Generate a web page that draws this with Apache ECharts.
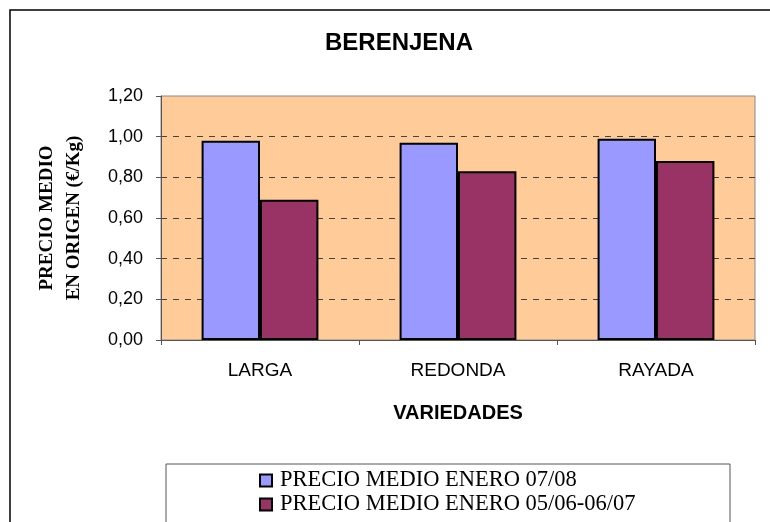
<!DOCTYPE html>
<html>
<head>
<meta charset="utf-8">
<script src="https://cdn.jsdelivr.net/npm/echarts@6/dist/echarts.min.js"></script>
<style>
  html, body { margin: 0; padding: 0; background: #fff; }
  #chart { width: 770px; height: 522px; }
</style>
</head>
<body>
<div id="chart"></div>
<script>
"use strict";
// chart data
const categories = ['LARGA', 'REDONDA', 'RAYADA'];
const seriesNames = ['PRECIO MEDIO ENERO 07/08', 'PRECIO MEDIO ENERO 05/06-06/07'];
const precio0708 = [0.98, 0.97, 0.99];
const precio0507 = [0.69, 0.83, 0.88];
const yTicks = [0, 0.2, 0.4, 0.6, 0.8, 1.0, 1.2];
const yName = 'PRECIO MEDIO\nEN ORIGEN (€/Kg)';

const chart = echarts.init(document.getElementById('chart'));

const barStyle = function (color) {
  return { color: color, borderColor: '#000', borderWidth: 2 };
};

chart.setOption({
  animation: false,
  backgroundColor: '#fff',
  title: {
    text: 'BERENJENA',
    left: 394,
    top: 26,
    textAlign: 'center',
    textStyle: { fontFamily: 'Liberation Sans', fontWeight: 'bold', fontSize: 24, color: '#000' }
  },
  graphic: [
    { type: 'rect', shape: { x: 10, y: 10, width: 800, height: 600 }, style: { fill: null, stroke: '#000', lineWidth: 1.5 }, silent: true },
    { type: 'rect', shape: { x: 166, y: 464, width: 564, height: 100 }, style: { fill: '#fff', stroke: '#555', lineWidth: 1 }, silent: true, z: 1 },
    // y axis title, two centred lines turned upward
    {
      type: 'text', x: 61, y: 218, rotation: Math.PI / 2, silent: true,
      style: {
        text: yName, fill: '#000', align: 'center', verticalAlign: 'middle',
        font: 'bold 19px "Liberation Serif"', lineHeight: 27
      }
    }
  ],
  legend: {
    orient: 'vertical',
    left: 259,
    top: 469,
    padding: 0,
    itemWidth: 12,
    itemHeight: 12,
    itemGap: 1,
    icon: 'rect',
    z: 5,
    textStyle: { fontFamily: 'Liberation Serif', fontSize: 22.5, color: '#000', lineHeight: 22, padding: [0, 0, 0, 3] },
    data: seriesNames
  },
  grid: {
    left: 161, right: 15, top: 96, bottom: 182,
    show: true,
    backgroundColor: '#FFCC99',
    borderColor: '#888',
    borderWidth: 1
  },
  xAxis: {
    type: 'category',
    data: categories,
    name: 'VARIEDADES',
    nameLocation: 'middle',
    nameGap: 63,
    nameTextStyle: { fontFamily: 'Liberation Sans', fontWeight: 'bold', fontSize: 20, color: '#000' },
    axisLine: { lineStyle: { color: '#555', width: 1 } },
    axisTick: { show: true, length: 5, lineStyle: { color: '#555' } },
    axisLabel: { margin: 21, fontFamily: 'Liberation Sans', fontSize: 19, color: '#000' }
  },
  yAxis: {
    type: 'value',
    min: yTicks[0],
    max: yTicks[yTicks.length - 1],
    interval: 0.2,
    axisLine: { show: true, lineStyle: { color: '#555', width: 1 } },
    axisTick: { show: true, length: 5, lineStyle: { color: '#555' } },
    axisLabel: {
      margin: 18,
      fontFamily: 'Liberation Sans', fontSize: 18, color: '#000',
      formatter: function (v) { return v.toFixed(2).replace('.', ','); }
    },
    splitLine: {
      show: true,
      showMinLine: false,
      showMaxLine: false,
      lineStyle: { color: '#444', type: [6, 6], width: 1 }
    }
  },
  series: [
    {
      name: seriesNames[0],
      type: 'bar',
      data: precio0708,
      barGap: '0%',
      barCategoryGap: '41%',
      itemStyle: barStyle('#9999FF')
    },
    {
      name: seriesNames[1],
      type: 'bar',
      data: precio0507,
      itemStyle: barStyle('#993366')
    }
  ]
});
</script>
</body>
</html>
